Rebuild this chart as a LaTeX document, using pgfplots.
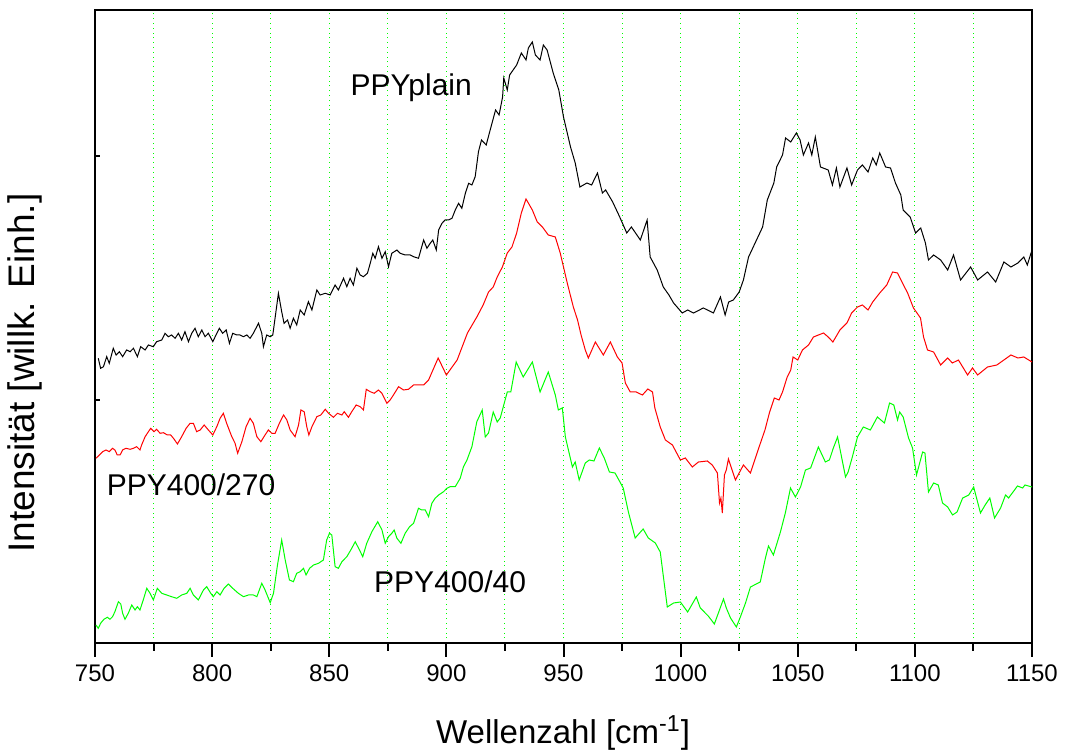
\documentclass[border=0pt]{standalone}
\usepackage{pgfplots}
\pgfplotsset{compat=1.18}
\usepackage{fontspec}
\setmainfont{Liberation Sans}
\definecolor{pgreen}{RGB}{0,255,0}
\definecolor{pred}{RGB}{255,0,0}
\begin{document}
\begin{tikzpicture}
\begin{axis}[
  name=main,
  scale only axis,
  width=468.5pt, height=316.5pt,
  xmin=750, xmax=1150, ymin=0, ymax=633,
  xtick={750,800,...,1150},
  minor xtick={775,825,...,1125},
  ytick=\empty,
  line width=1pt,
  axis line style={line width=1pt},
  every tick/.style={black, line width=1pt},
  xtick align=outside,
  major tick length=7pt, minor tick length=4pt,
  xtick pos=bottom,
  tick label style={font=\fontsize{12}{14}\selectfont},
  /pgf/number format/assume math mode=true,
  /pgf/number format/1000 sep={},
  xmajorgrids, xminorgrids,
  major grid style={pgreen, dotted, line width=0.5pt},
  minor grid style={pgreen, dotted, line width=0.5pt},
  xlabel={Wellenzahl [cm\textsuperscript{-1}]},
  ylabel={Intensität [willk. Einh.]},
  xlabel style={font=\fontsize{16.5}{19}\selectfont, at={(axis description cs:0.4995,-0.142)}, anchor=center},
  ylabel style={font=\fontsize{18.5}{21}\selectfont, at={(axis description cs:-0.0747,0.4265)}, anchor=center},
  clip=true,
]
% PPYplain
\addplot[black, line width=0.5pt] coordinates {
(751.4,284.7)(752.4,274.7)(753.6,276.3)(755.0,286.3)(756.1,279.7)(757.8,294.7)(759.0,288)(760.4,291.3)(761.8,286.3)(763.5,293)
(765.0,291.3)(766.4,294.7)(768.1,286.3)(769.5,296.3)(771.4,293)(772.8,298)(774.9,296.3)(776.3,301.3)(778.5,303)(779.9,309.7)
(781.3,306.3)(782.7,308)(784.2,304.7)(785.6,309.7)(787.0,303)(788.4,311.3)(789.9,301.3)(791.3,309.7)(792.7,314.7)(794.1,306.3)
(795.6,313)(797.0,306.3)(798.4,309.7)(800.3,301.3)(802.0,309.7)(803.1,314.7)(804.5,309.7)(806.0,313)(807.4,299.7)(808.8,309.7)
(810.5,308)(811.9,308)(813.4,306.3)(814.8,308)(816.2,304.7)(817.6,309.7)(819.8,319.7)(821.2,309.7)(821.9,296.3)(823.3,308)
(824.8,306.3)(825.9,308)(828.3,349.7)(829.7,331.3)(830.7,319.7)(832.2,323)(833.3,314.7)(834.7,324.7)(836.1,318)(837.6,333)
(839.3,328)(841.1,341.3)(842.6,333)(844.7,353)(846.1,348)(848.3,349.7)(850.4,348)(852.5,358)(853.9,353)(856.1,364.7)
(857.5,356.3)(858.9,364.7)(860.3,358)(861.8,374.7)(863.2,368)(864.6,366.3)(866.3,369.7)(867.5,379.7)(868.6,389.7)(869.6,384.7)
(871.0,396.3)(872.5,384.7)(873.9,391.3)(875.3,376.3)(876.7,389.7)(878.9,393)(880.3,389.7)(882.4,388)(884.6,388)(886.0,386.3)
(888.1,384.7)(890.3,403)(891.7,394.7)(893.1,399.7)(894.2,403)(895.7,393)(896.7,413)(898.1,419.7)(899.5,423)(900.9,423)
(902.4,424.7)(903.8,433)(905.2,439.7)(906.6,434.7)(908.1,449.7)(909.5,459.7)(910.9,458)(912.3,466.3)(913.7,491.3)
(915,503)(917,498)(918.7,513)
(921,533)(922.5,528)(924,546)(924.5,565)(926,553)(927,568)(930,578)(932,590)(934,583)(935,595)
(936.7,601)(938,588)(940,583)(941.4,598)(943,593)(945.6,570)(948,553)(950,526)(953,496)(955,480)
(957,456)(960,460)(962,458)(964.5,470)(966.6,450)(968,453)(971,441)(974,426)(977,410)(979,416)
(982.8,403)(985.7,423)(987,386)(990,373)(992.6,356)(995,348)(997,340)(1000.7,330)(1003,333)(1005.5,330)
(1009.7,335)(1014,330)(1017,346)(1019,328)(1020.5,341)(1022.5,343)(1025,351)(1026.8,363)(1029,386)(1031,396)
(1035,416)(1037,443)(1039.8,460)(1041,476)(1043.5,488)(1044.8,505)(1047,501)(1049.4,510)(1051,503)(1052.4,488)
(1054.6,500)(1056,488)(1057.5,506)(1059.7,476)(1063,473)(1064.8,458)(1066.5,475)(1068,456)(1071,475)(1073,458)
(1075.5,473)(1077.6,478)(1080,471)(1082,485)(1083.5,478)(1085,490)(1087.5,476)(1089.6,475)(1091.7,460)(1094,448)
(1095,433)(1098,426)(1100.3,410)(1102.5,415)(1104.5,400)(1105.8,383)(1108,388)(1111,383)(1114,373)(1116.5,388)
(1119.5,363)(1123.8,376)(1126.8,363)(1131,371)(1134.5,361)(1138,381)(1141,376)(1144,380)(1146.5,386)(1148,378)
(1150,393)
};
% PPY400/270
\addplot[pred, line width=0.5pt] coordinates {
(750.4,184.7)(751.9,188)(753.3,191.3)(754.7,193)(756.1,191.3)(757.5,194.7)(758.5,193)(759.5,188)(760.7,188)(761.8,193)
(763.2,194.7)(765.0,193.7)(766.4,194.7)(767.8,196.3)(769.2,193)(769.9,198)(771.4,206.3)(772.8,211.3)(773.8,214.7)(775.2,211.3)
(776.3,213.7)(777.8,209.7)(779.2,210.3)(780.9,208)(782.3,208)(783.5,204.7)(785.2,199)(787.0,206.3)(788.9,214.7)(790.6,219.7)
(792.0,219.7)(793.4,211.3)(794.9,213)(796.6,218)(798.4,213)(800.3,208)(802.0,216.3)(803.4,224.7)(804.8,229.7)(806.2,219.7)
(808.4,206.3)(809.8,199.7)(810.9,189.7)(812.7,201.3)(814.5,216.3)(816.2,224.7)(817.6,219.7)(819.1,206.3)(820.8,201.3)(822.6,208)
(824.0,213)(825.5,209.7)(826.9,209.7)(828.7,219.7)(830.5,228)(831.9,223)(833.3,213)(835.4,206.3)(836.9,218)(837.9,233)
(839.3,231.3)(840.4,216.3)(841.3,208)(842.6,216.3)(844.7,226.3)(846.4,228)(848.3,233.7)(849.7,229.7)(851.8,225.7)(853.5,229.7)
(855.4,228)(856.4,231.3)(858.2,225.7)(859.6,231.3)(861.5,238)(863.2,236.3)(864.6,233)(865.8,253.7)(867.5,251.3)(869.2,249.7)
(871.0,253)(872.5,249.7)(873.9,243)(874.6,239.7)(876.0,243)(877.4,248)(879.6,256.3)(881.7,253)(883.8,253.7)(886.0,258)
(888.1,258)(890.3,258)(892.4,263)
(896.5,285)(900,268)(904.6,283)(909,310)(913,326)(915.7,338)
(918,351)(920,356)(921.7,366)(923.9,376)(926,390)(928,396)(930,410)(932,430)(934,444)(936.7,433)
(938.8,421)(941,416)(943.5,408)(946.5,406)(948.6,390)(951.6,360)(954.2,336)(956,323)(957.5,308)(959.3,293)
(960.6,285)(963.6,301)(967,288)(970,301)(973,286)(975,280)(976.4,260)(978.5,251)(981,251)(983.7,248)
(986,254)(988,251)(989,235)(991.3,216)(993.5,203)(996.5,198)(999.9,183)(1002,185)(1005,176)(1007.6,181)
(1011.4,182)(1013.5,178)(1015.7,170)(1016.6,140)(1017.2,145)(1017.8,130)(1018.7,168)(1019.5,173)(1020.4,184)(1023.4,163)
(1026.8,178)(1029.8,170)(1033.2,194)(1036,213)(1038,231)(1040,245)(1042,243)(1043.5,251)(1045.5,266)(1047,273)
(1048,286)(1050,283)(1052,293)(1054.6,298)(1056.7,306)(1061,310)(1063,306)(1065,301)(1068,313)(1071,320)
(1073,330)(1075.5,336)(1077.6,338)(1080,333)(1082,341)(1085,350)(1088,358)(1090.5,371)(1092.6,370)(1094.7,360)
(1096.9,350)(1099.4,335)(1102.4,325)(1103.7,306)(1105.4,293)(1108,291)(1111,278)(1114,285)(1116,280)(1118.6,283)
(1122.5,268)(1124.6,275)(1126.8,268)(1131,276)(1135,278)(1138,283)(1141,288)(1144,285)(1146.5,286)(1150,281)
};
% PPY400/40
\addplot[pgreen, line width=0.5pt] coordinates {
(750.4,18)(751.4,14.7)(752.4,19.7)(753.8,23.7)(755.3,25.7)(756.4,23.7)(757.5,26.3)(758.5,31.3)(760.0,41.3)(761.0,39)
(761.8,29.7)(762.8,23.7)(764.2,29.7)(765.7,38)(767.1,33)(768.1,36.3)(769.2,33)(770.6,43)(772.1,54.7)(773.5,49.7)
(774.9,43)(776.6,54.7)(778.5,49.7)(780.6,48)(782.7,46.3)(784.9,44.7)(787.0,48)(789.2,49.7)(790.6,54.7)(792.0,48)
(794.1,43)(796.3,53)(797.7,56.3)(799.4,49.7)(800.5,46.3)(802.0,51.3)(803.4,48)(805.1,54.7)(806.9,59)(808.8,54.7)
(811.2,49.7)(813.4,46.3)(815.5,48)(817.6,48)(819.1,46.3)(821.2,59.7)(822.6,53)(824.8,40.3)(826.2,49.7)(827.9,78)
(829.7,103)(831.2,83)(833.0,63)(834.7,61.3)(836.1,69.7)(837.6,71.3)(839.0,74.7)(840.1,68)(841.6,74.7)(843.3,78)
(845.4,79.7)(847.5,83)(848.9,103)(850.1,109.7)(851.1,108)(852.5,76.3)(853.9,74.7)(855.4,81.3)(857.5,86.3)(859.2,93)
(861.1,101.3)(862.9,93)(864.3,86.3)(866.0,99.7)(868.2,111.3)(870.7,121.3)(872.5,113)(873.9,99.7)(875.3,106.3)(876.7,109.7)
(877.7,113)(878.9,104.7)(880.6,99.7)(882.4,109.7)(884.3,116.3)(886.0,119.7)(888.1,134.7)(889.5,133)(891.0,133)(892.4,126.3)
(893.8,139.7)(895.2,144.7)(896.7,148)(898.8,151.3)(900.2,154.7)(901.6,156.3)(903.8,156.3)(905.9,164.7)(907.3,176.3)(908.8,183)
(910.9,196.3)(913.0,221.3)
(915.3,233)(916.6,206)(918,210)(920,231)
(921.7,221)(923,225)(926,251)(927.5,251)(929.8,281)(932.8,266)(936.7,281)(940,251)(943.5,271)(946.5,248)
(947.8,233)(949.5,235)(950.8,206)(953.8,176)(955,181)(956.7,163)(959.3,180)(961,183)(963,182)(965.3,195)
(967.4,185)(969.6,171)(972,170)(975.5,155)(977.7,131)(980.6,105)(984,114)(986.2,105)(989.2,100)(991.3,91)
(994.3,36)(997,40)(999.9,41)(1003,31)(1006.7,46)(1008.4,35)(1011.8,27)(1014.4,19)(1018.3,44)(1019.5,35)
(1021.3,25)(1023.8,16)(1025.5,26)(1027.7,40)(1029.8,56)(1034,61)(1036.2,85)(1037.5,97)(1039.6,88)(1042.6,111)
(1044.7,130)(1046.9,155)(1049,146)(1051.2,156)(1053.3,173)(1055.5,175)(1058.8,196)(1061.8,181)(1063.5,183)(1065.2,195)
(1067,206)(1070.4,166)(1071.5,171)(1073.3,186)(1075.5,206)(1078,216)(1081,213)(1084,226)(1087,220)(1089.2,240)
(1091,238)(1092.6,223)(1093.5,231)(1095,226)(1097.3,205)(1099,195)(1100.7,168)(1103.3,191)(1104.3,190)(1105.8,151)
(1108,160)(1110,158)(1111.8,140)(1114,136)(1116.1,128)(1118,131)(1120.4,145)(1123,148)(1125.1,156)(1128,130)
(1130,138)(1132,145)(1134,125)(1136.6,135)(1138.7,148)(1140,145)(1143.8,157)(1146,155)(1147,158)(1150,156)
};
\node[font=\fontsize{15}{18}\selectfont, anchor=center] at (axis cs:885,555) {PPYplain};
\node[font=\fontsize{15}{18}\selectfont, anchor=center] at (axis cs:791,158) {PPY400/270};
\node[font=\fontsize{15}{18}\selectfont, anchor=center] at (axis cs:901.6,61) {PPY400/40};
\end{axis}
% overlay axis carrying only the short inner y ticks
\begin{axis}[
  at={(main.south west)}, anchor=south west,
  scale only axis,
  width=468.5pt, height=316.5pt,
  xmin=750, xmax=1150, ymin=0, ymax=633,
  axis x line=none, axis y line*=left,
  axis line style={draw=none},
  ytick={0,243,487}, yticklabels={},
  ytick align=inside, major tick length=2.5pt,
  every tick/.style={black, line width=1pt},
]
\end{axis}
\pgfresetboundingbox
\path[use as bounding box] ([xshift=-47.5pt,yshift=-55pt]main.south west) rectangle ([xshift=17pt,yshift=5pt]main.north east);
\end{tikzpicture}
\end{document}
